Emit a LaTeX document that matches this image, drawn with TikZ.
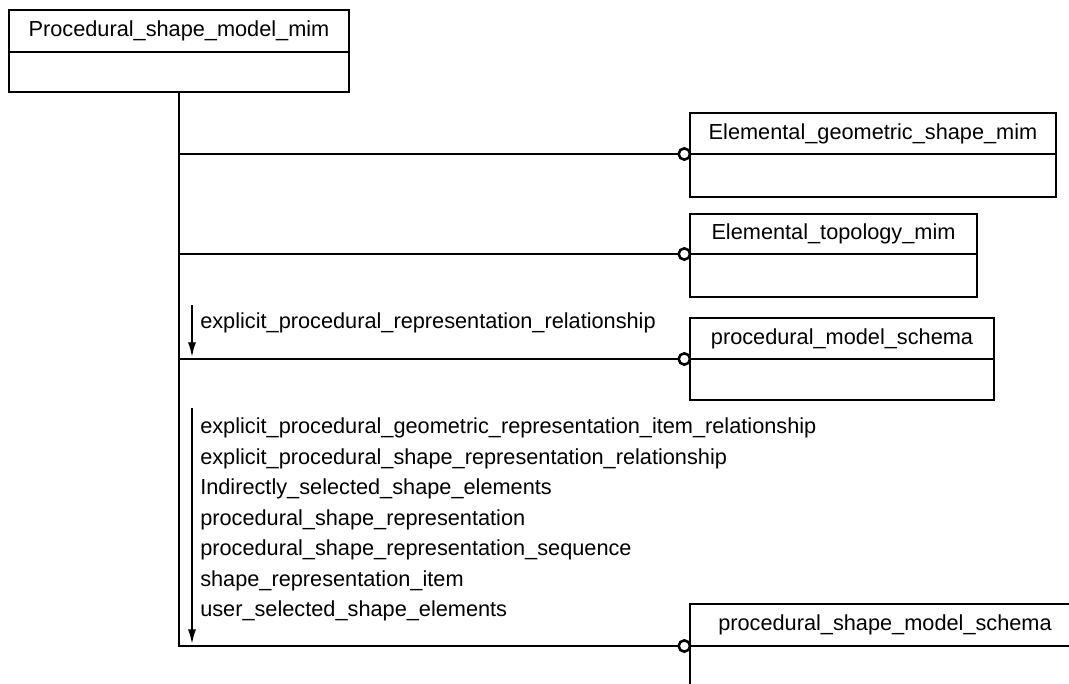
\documentclass[tikz,border=0pt]{standalone}
\usepackage{fontspec}
\setmainfont{Liberation Sans}
\usepackage{tikz}
\usetikzlibrary{arrows.meta}
\usetikzlibrary{positioning}

\tikzset{
	classhead/.style={draw, line width=1.9pt, anchor=north west, inner sep=0pt, outer sep=0pt,
		font=\fontsize{16.3}{18}\selectfont},
	classbody/.style={draw, line width=1.9pt, anchor=north, inner sep=0pt, outer sep=0pt},
	link/.style={line width=1.9pt},
	port/.style={draw, circle, line width=1.9pt, fill=white, inner sep=0pt, outer sep=0pt,
		minimum size=8.5pt, anchor=east},
	usedfrom/.style={line width=1.3pt, -{Latex[length=11pt, width=6pt]}, shorten >=1.5pt},
	reltext/.style={anchor=west, inner sep=0pt, font=\fontsize{16.3}{18}\selectfont},
}

\begin{document}
\begin{tikzpicture}[x=0.75pt, y=-0.75pt]
				\clip (0,0) rectangle (1069,684);
				
				% schemas
				\node[classhead, minimum width=340*0.75pt, minimum height=42*0.75pt] (psmm) at (9,10)
					{Procedural\_shape\_model\_mim};
				\node[classbody, minimum width=340*0.75pt, minimum height=40*0.75pt] (psmm body) at (psmm.south) {};
				
				\node[classhead, minimum width=366*0.75pt, minimum height=41*0.75pt] (egsm) at (690,113)
					{Elemental\_geometric\_shape\_mim};
				\node[classbody, minimum width=366*0.75pt, minimum height=43*0.75pt] (egsm body) at (egsm.south) {};
				
				\node[classhead, minimum width=287*0.75pt, minimum height=40*0.75pt] (etm) at (690,214)
					{Elemental\_topology\_mim};
				\node[classbody, minimum width=287*0.75pt, minimum height=43*0.75pt] (etm body) at (etm.south) {};
				
				\node[classhead, minimum width=304*0.75pt, minimum height=41*0.75pt] (pms) at (690,318)
					{procedural\_model\_schema};
				\node[classbody, minimum width=304*0.75pt, minimum height=41*0.75pt] (pms body) at (pms.south) {};
				
				\node[classhead, minimum width=390*0.75pt, minimum height=42*0.75pt] (psms) at (690,604)
					{procedural\_shape\_model\_schema};
				\node[classbody, minimum width=390*0.75pt, minimum height=60*0.75pt] (psms body) at (psms.south) {};
				
				% interface ports
				\node[port] (egsm port) at (egsm.south west) {};
				\node[port] (etm port) at (etm.south west) {};
				\node[port] (pms port) at (pms.south west) {};
				\node[port] (psms port) at (psms.south west) {};
				
				% links
				\draw[link] (psmm body.south) |- (psms port.west);
				\draw[link] (psmm body.south |- egsm port) -- (egsm port.west);
				\draw[link] (psmm body.south |- etm port) -- (etm port.west);
				\draw[link] (psmm body.south |- pms port) -- (pms port.west);
				
				% used items
				\coordinate (pms arrow) at (192,305);
				\draw[usedfrom] (pms arrow) -- (pms arrow |- pms port);
				\node[reltext] (pms item) at (200,323) {explicit\_procedural\_representation\_relationship};
				
				\coordinate (psms arrow) at (192,408);
				\draw[usedfrom] (psms arrow) -- (psms arrow |- psms port);
				\node[reltext] (psms item1) at (200,428) {explicit\_procedural\_geometric\_representation\_item\_relationship};
				\node[reltext] (psms item2) at (200,458.5) {explicit\_procedural\_shape\_representation\_relationship};
				\node[reltext] (psms item3) at (200,489) {Indirectly\_selected\_shape\_elements};
				\node[reltext] (psms item4) at (200,519.5) {procedural\_shape\_representation};
				\node[reltext] (psms item5) at (200,550) {procedural\_shape\_representation\_sequence};
				\node[reltext] (psms item6) at (200,580.5) {shape\_representation\_item};
				\node[reltext] (psms item7) at (200,611) {user\_selected\_shape\_elements};
				
			\end{tikzpicture}
\end{document}
